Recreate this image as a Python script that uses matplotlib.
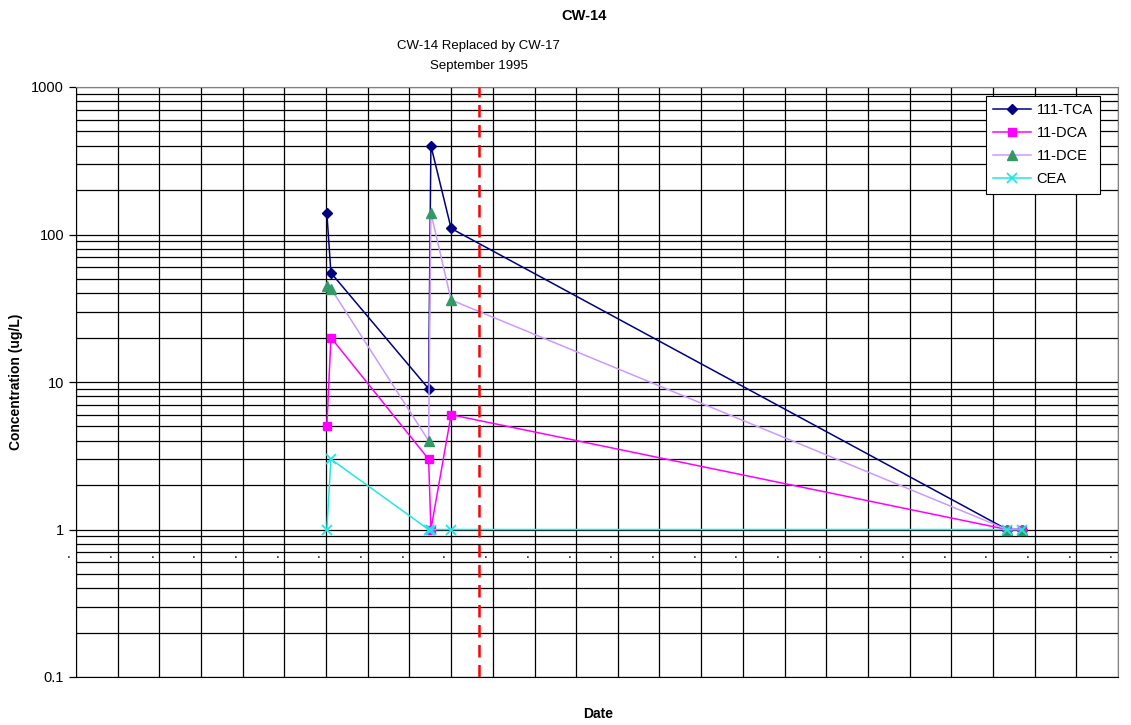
import matplotlib
matplotlib.use("Agg")
import matplotlib.pyplot as plt
import matplotlib.transforms as mtransforms
import pandas as pd
from matplotlib.ticker import LogLocator, NullFormatter, FuncFormatter

plt.rcParams['font.family'] = ['Liberation Sans', 'DejaVu Sans']

dates = ["1992-01-08", "1992-02-13", "1994-06-18", "1994-07-08", "1995-01-01", "2008-05-04", "2008-09-12"]
tca = [140, 55, 9, 400, 110, 1, 1]
dca = [5, 20, 3, 1, 6, 1, 1]
dce = [45, 43, 4, 140, 36, 1, 1]
cea = [1, 3, 1, 1, 1, 1, 1]
replaced_date = "1995-09-01"
replaced_lines = ["CW-14 Replaced by CW-17", "September 1995"]
x_start, x_end = "1986-01-01", "2011-01-01"

x = pd.to_datetime(dates)

fig = plt.figure(figsize=(11.31, 7.25), dpi=100)
ax = fig.add_axes([76/1131, 1-677/725, (1118-76)/1131, (677-87)/725])
ax.set_yscale('log')
ax.set_ylim(0.1, 1000)
ax.set_xlim(pd.Timestamp(x_start), pd.Timestamp(x_end))

# grid
years = pd.date_range(x_start, x_end, freq='YS')
for yv in years:
    ax.axvline(yv, color='black', lw=0.9, zorder=1)
ax.yaxis.set_major_locator(LogLocator(base=10, numticks=10))
ax.yaxis.set_minor_locator(LogLocator(base=10, subs=range(2, 10), numticks=10))
ax.yaxis.set_minor_formatter(NullFormatter())
ax.yaxis.set_major_formatter(FuncFormatter(lambda v, p: f"{v:g}"))
ax.grid(True, which='major', axis='y', color='black', lw=0.9, zorder=1)
ax.grid(True, which='minor', axis='y', color='black', lw=0.9, zorder=1)
ax.tick_params(axis='y', which='major', length=5, width=0.9, labelsize=10.5, direction='out')
ax.tick_params(axis='y', which='minor', length=0)
ax.set_xticks([])

# dot tick labels
trans = mtransforms.blended_transform_factory(ax.transData, ax.transAxes)
off = mtransforms.ScaledTranslation(-7/100, 0, fig.dpi_scale_trans)
for yv in years:
    ax.text(yv, (677-558)/590, ".", transform=trans + off, ha='center', va='baseline',
            fontsize=10, clip_on=False, zorder=2)

for s in ['top', 'right']:
    ax.spines[s].set_color('#808080')
for s in ['left', 'bottom']:
    ax.spines[s].set_color('black')

ax.plot(x, tca, color='#000080', marker='D', ms=5.5, lw=1.1, label='111-TCA', zorder=3)
ax.plot(x, dca, color='#FF00FF', marker='s', ms=6, lw=1.1, label='11-DCA', zorder=3)
ax.plot(x, dce, color='#CC99FF', marker='^', ms=7, mfc='#339966', mec='#339966', lw=1.1, label='11-DCE', zorder=3)
ax.plot(x, cea, color='#22E6E6', marker='x', ms=7, mew=1.3, lw=1.1, label='CEA', zorder=3)

ax.axvline(pd.Timestamp(replaced_date), color='#FF0000', lw=1.8, ls=(0, (5, 3)), zorder=4)

leg = ax.legend(loc='upper right', fontsize=10.5,
                frameon=True, fancybox=False, edgecolor='black', framealpha=1,
                handlelength=2.6, handletextpad=0.35, borderpad=0.5, labelspacing=0.62,
                borderaxespad=0)
leg.get_frame().set_linewidth(0.8)
leg.set_zorder(10)
leg.set_bbox_to_anchor(((1100-76)/1042, 1-(96-87)/590), transform=ax.transAxes)

fig.text(584/1131, 1-16/725, "CW-14", ha='center', va='center', fontsize=10.5, fontweight='bold')
xr = ax.transData.transform((matplotlib.dates.date2num(pd.Timestamp(replaced_date)), 1))[0] / fig.bbox.width
fig.text(xr, 1-46/725, replaced_lines[0], ha='center', va='center', fontsize=9.5)
fig.text(xr, 1-66/725, replaced_lines[1], ha='center', va='center', fontsize=9.5)
fig.text(598/1131, 1-714/725, "Date", ha='center', va='center', fontsize=10, fontweight='bold')
fig.text(16/1131, 1-382/725, "Concentration (ug/L)", ha='center', va='center', rotation=90, fontsize=10, fontweight='bold')

fig.savefig("out.png", dpi=100)
